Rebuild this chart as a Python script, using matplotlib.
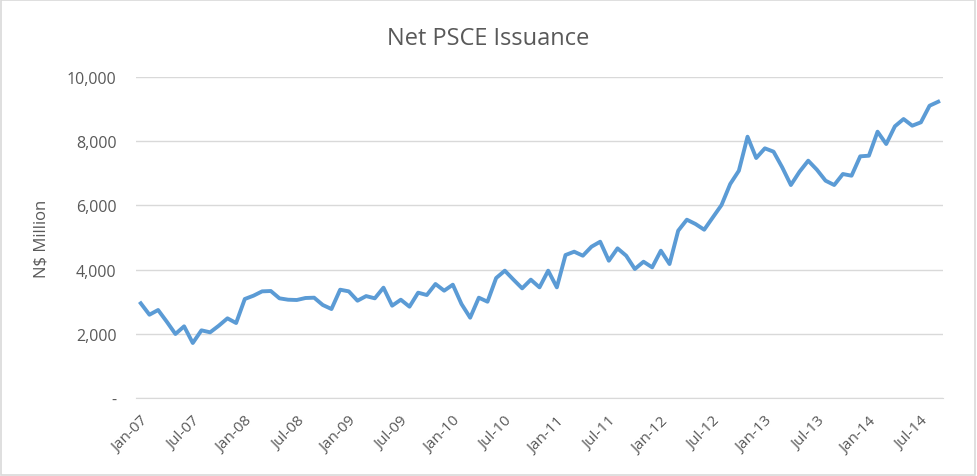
import numpy as np
import pandas as pd
import matplotlib
matplotlib.use("Agg")
import matplotlib.pyplot as plt
from matplotlib.patches import Rectangle

# monthly net PSCE issuance, N$ million, Jan-07 .. Sep-14
months = pd.date_range("2007-01-01", periods=93, freq="MS")
issuance = [
    2950, 2595, 2741, 2377, 1994, 2233, 1713, 2108, 2046, 2252, 2482, 2336,
    3084, 3187, 3322, 3333, 3105, 3062, 3053, 3115, 3125, 2897, 2772, 3374,
    3322, 3031, 3175, 3105, 3437, 2876, 3062, 2845, 3281, 3208, 3551, 3343,
    3530, 2928, 2502, 3125, 3000, 3738, 3966, 3686, 3416, 3686, 3447, 3966,
    3447, 4454, 4558, 4433, 4714, 4869, 4277, 4662, 4433, 4018, 4246, 4070,
    4589, 4174, 5212, 5555, 5420, 5243, 5628, 6012, 6666, 7081, 8140, 7476,
    7778, 7674, 7186, 6635, 7050, 7393, 7112, 6770, 6635, 6978, 6925, 7529,
    7548, 8296, 7912, 8464, 8691, 8483, 8588, 9105, 9230,
]
y_ticks = [0, 2000, 4000, 6000, 8000, 10000]

plt.rcParams['font.family'] = ['Open Sans', 'DejaVu Sans']
txt = '#595959'

fig = plt.figure(figsize=(9.77, 4.77), dpi=100)
ax = fig.add_axes([136/977, 78/477, (943-136)/977, (399-78)/477])

x = np.arange(len(issuance))
ax.plot(x, issuance, color='#5B9BD5', lw=2.8, solid_joinstyle='round')

ax.set_xlim(-0.55, len(issuance) - 0.45)
ax.set_ylim(0, 10000)
ax.set_yticks(y_ticks)
ax.set_yticklabels(['-' if v == 0 else f'{v:,}' for v in y_ticks])
ax.yaxis.grid(True, color='#d9d9d9', lw=1)
ax.set_axisbelow(True)

tick_pos = x[::6]
ax.set_xticks(tick_pos)
ax.set_xticklabels([months[i].strftime('%b-%y') for i in tick_pos],
                   rotation=45, ha='right', rotation_mode='anchor')

for s in ['top', 'right', 'left']:
    ax.spines[s].set_visible(False)
ax.spines['bottom'].set_color('#d9d9d9')
ax.tick_params(axis='both', length=0, colors=txt)
ax.tick_params(axis='y', pad=14, labelsize=11.5)
ax.tick_params(axis='x', pad=11, labelsize=11)

ax.set_ylabel('N$ Million', color=txt, fontsize=12)
ax.yaxis.set_label_coords(-0.107, 0.5)
fig.text(0.5, 0.918, 'Net PSCE Issuance', ha='center', va='center',
         color=txt, fontsize=17)

fig.add_artist(Rectangle((0.001, 0.002), 0.997, 0.995, transform=fig.transFigure,
                         fill=False, edgecolor='#d9d9d9', lw=1.2))

fig.savefig('out.png', dpi=100, facecolor='white')
